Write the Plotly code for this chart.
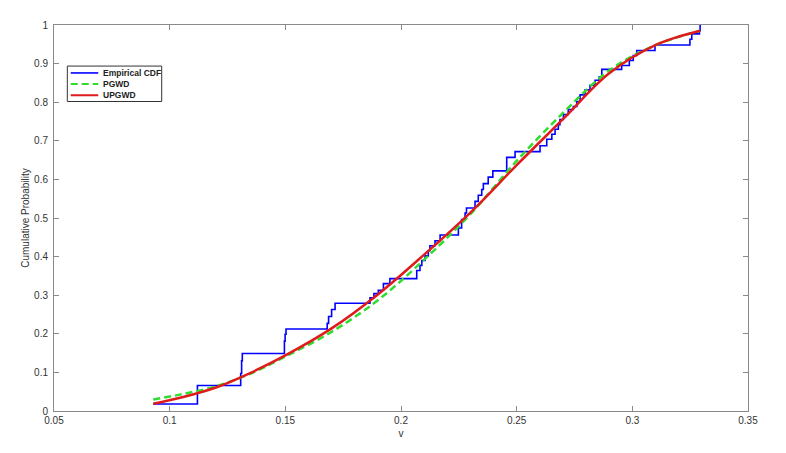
import plotly.graph_objects as go

# Empirical CDF: jump positions (v) and level after each jump
ecdf_v = [0.0929, 0.1120, 0.1307, 0.1311, 0.1314, 0.1496, 0.1499, 0.1503,
          0.1681, 0.1687, 0.1700, 0.1715, 0.1866, 0.1883, 0.1902, 0.1924, 0.1952,
          0.2068, 0.2082, 0.2090, 0.2104, 0.2118, 0.2125, 0.2147, 0.2169,
          0.2248, 0.2262, 0.2277, 0.2283, 0.2320, 0.2334, 0.2349, 0.2356, 0.2377, 0.2397,
          0.2457, 0.2493,
          0.2601, 0.2630, 0.2652, 0.2666, 0.2680, 0.2687, 0.2702, 0.2723, 0.2745, 0.2760,
          0.2774, 0.2796, 0.2817, 0.2839, 0.2857, 0.2868,
          0.2954, 0.2987, 0.3004, 0.3019, 0.3098,
          0.3249, 0.3257, 0.3290, 0.3293]
ecdf_p = [0.018, 0.066, 0.097, 0.130, 0.149, 0.181, 0.199, 0.2125,
          0.227, 0.245, 0.263, 0.279, 0.293, 0.304, 0.313, 0.330, 0.343,
          0.364, 0.377, 0.390, 0.402, 0.415, 0.428, 0.441, 0.456,
          0.474, 0.496, 0.513, 0.526, 0.543, 0.559, 0.574, 0.589, 0.606, 0.622,
          0.657, 0.672,
          0.687, 0.704, 0.717, 0.730, 0.742, 0.755, 0.768, 0.781, 0.789, 0.802,
          0.819, 0.832, 0.844, 0.857, 0.866, 0.885,
          0.895, 0.908, 0.921, 0.934, 0.948,
          0.963, 0.977, 0.985, 1.0]

# Fitted CDFs
fit_v = [0.0929, 0.105, 0.12, 0.135, 0.15, 0.17, 0.19, 0.21, 0.23, 0.25, 0.27, 0.29, 0.31, 0.3293]
pgwd_p = [0.030, 0.043, 0.064, 0.097, 0.141, 0.205, 0.287, 0.392, 0.510, 0.648, 0.772, 0.882, 0.948, 0.985]
upgwd_p = [0.019, 0.035, 0.061, 0.099, 0.144, 0.214, 0.302, 0.405, 0.514, 0.637, 0.756, 0.875, 0.948, 0.985]

x_ticks = [0.05, 0.1, 0.15, 0.2, 0.25, 0.3, 0.35]
y_ticks = [0, 0.1, 0.2, 0.3, 0.4, 0.5, 0.6, 0.7, 0.8, 0.9, 1]

names = ["Empirical CDF", "PGWD", "UPGWD"]
colors = ["#0000ff", "#2fdc2f", "#e01b1b"]

fig = go.Figure()
fig.add_trace(go.Scatter(x=ecdf_v, y=ecdf_p, mode="lines", name=names[0],
                         line=dict(color=colors[0], width=1.6, shape="hv"), showlegend=False))
fig.add_trace(go.Scatter(x=fit_v, y=pgwd_p, mode="lines", name=names[1],
                         line=dict(color=colors[1], width=2.5, dash="7px,4px", shape="spline"),
                         showlegend=False))
fig.add_trace(go.Scatter(x=fit_v, y=upgwd_p, mode="lines", name=names[2],
                         line=dict(color=colors[2], width=2.5, shape="spline"), showlegend=False))

axis_common = dict(showline=True, linecolor="#8a8a8a", linewidth=1, mirror="ticks",
                   ticks="inside", ticklen=5, tickcolor="#8a8a8a", showgrid=False,
                   zeroline=False, tickfont=dict(family="Liberation Sans", size=10, color="#333333"))

# The page body adds an 8px margin, so the figure is sized to fit inside the window.
fig.update_layout(
    width=778, height=445,
    margin=dict(l=46, r=38, t=11, b=42),
    paper_bgcolor="white", plot_bgcolor="white",
    xaxis=dict(range=[0.05, 0.35], tickvals=x_ticks, ticktext=[f"{t:g}" for t in x_ticks],
               title=dict(text="v", font=dict(family="Liberation Sans", size=10, color="#333333"),
                          standoff=4), **axis_common),
    yaxis=dict(range=[0, 1], tickvals=y_ticks, ticktext=[f"{t:g}" for t in y_ticks],
               ticklabelstandoff=3,
               title=dict(text="Cumulative Probability",
                          font=dict(family="Liberation Sans", size=10, color="#333333"),
                          standoff=2), **axis_common),
)

# Legend (MATLAB-style compact box)
box_x0, box_x1, box_y0, box_y1 = 0.0192, 0.1552, 0.8018, 0.8936
fig.add_shape(type="rect", xref="paper", yref="paper", x0=box_x0, x1=box_x1, y0=box_y0, y1=box_y1,
              line=dict(color="#333333", width=1), fillcolor="white", layer="above")
rows = [0.8758, 0.8469, 0.8180]
for name, col, ry, dash in zip(names, colors, rows, ["solid", "7px,4px", "solid"]):
    fig.add_shape(type="line", xref="paper", yref="paper", x0=0.0241, x1=0.0638, y0=ry, y1=ry,
                  line=dict(color=col, width=2 if name != "Empirical CDF" else 1.6, dash=dash),
                  layer="above")
    fig.add_annotation(xref="paper", yref="paper", x=0.0673, y=ry, text=f"<b>{name}</b>",
                       showarrow=False, xanchor="left", yanchor="middle",
                       font=dict(family="Liberation Sans", size=8.5, color="#222222"))

fig.write_html("out.html")
